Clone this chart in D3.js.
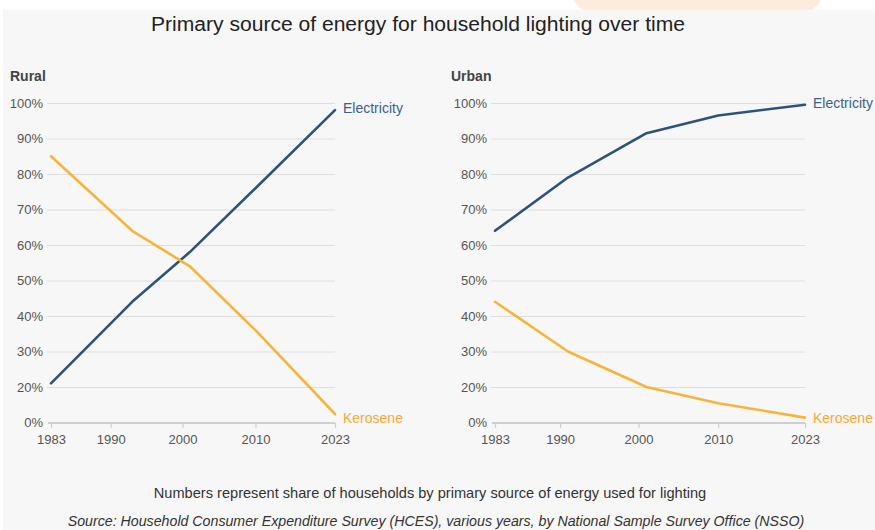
<!DOCTYPE html>
<html>
<head>
<meta charset="utf-8">
<script src="https://cdn.jsdelivr.net/npm/d3@7"></script>
<style>
  body { margin: 0; background: #fff; }
  svg { display: block; font-family: "Liberation Sans", Arial, Helvetica, sans-serif; }
</style>
</head>
<body>
<div id="chart"></div>
<script>
// Data (share of households, %)
const tickYears = [1983, 1990, 2000, 2010, 2023];
const yTicks = [0, 20, 30, 40, 50, 60, 70, 80, 90, 100];

const ruralYears = [1983, 1993, 2001, 2010, 2023];
const ruralElectricity = [21, 44, 58, 76, 98];
const ruralKerosene = [85, 64, 54, 36, 5];

const urbanYears = [1983, 1991, 2001, 2010, 2023];
const urbanElectricity = [64, 79, 91.5, 96.5, 99.5];
const urbanKerosene = [44, 30, 20, 11, 3];

const width = 875;
const height = 530;

const colElec = "#2f5278";
const colKero = "#f8b43a";

const svg = d3.select("#chart")
    .append("svg")
    .attr("width", width)
    .attr("height", height);

// orange badge peeking in at the top
svg.append("rect")
    .attr("x", 572).attr("y", -30)
    .attr("width", 250).attr("height", 42)
    .attr("rx", 20)
    .attr("fill", "#fdebdc");

// chart background
svg.append("rect")
    .attr("x", 3).attr("y", 10)
    .attr("width", width - 3).attr("height", height - 10)
    .attr("fill", "#f7f7f7");

svg.append("text")
    .attr("x", 418).attr("y", 31)
    .attr("text-anchor", "middle")
    .attr("font-size", 20)
    .attr("textLength", 534)
    .attr("lengthAdjust", "spacingAndGlyphs")
    .attr("fill", "#222")
    .text("Primary source of energy for household lighting over time");

// same positional fractions for both panels
const tickFrac = [0, 0.21, 0.463, 0.72, 1];

const panels = [
    { name: "Rural", x0: 51, x1: 335, titleX: 10, years: ruralYears, elec: ruralElectricity, kero: ruralKerosene },
    { name: "Urban", x0: 495, x1: 805, titleX: 451, years: urbanYears, elec: urbanElectricity, kero: urbanKerosene }
];

// y: the source places "0%" one step below 20% (no 10% line)
const y = d3.scaleLinear()
    .domain([0, 20, 100])
    .range([423, 387, 103]);

panels.forEach(p => {
    const x = d3.scaleLinear()
        .domain(tickYears)
        .range(tickFrac.map(f => p.x0 + f * (p.x1 - p.x0)));

    const g = svg.append("g");

    g.append("text")
        .attr("x", p.titleX).attr("y", 81)
        .attr("font-size", 14)
        .attr("font-weight", "bold")
        .attr("fill", "#444")
        .text(p.name);

    // gridlines + y labels
    const yAxis = g.append("g")
        .attr("transform", `translate(${p.x0 - 4},0)`)
        .call(d3.axisLeft(y)
            .tickValues(yTicks.filter(d => d > 0))
            .tickSize(-(p.x1 - p.x0 + 4))
            .tickPadding(4)
            .tickFormat(d => d + "%"));
    yAxis.select(".domain").remove();
    yAxis.selectAll(".tick line").attr("stroke", "#dedede");
    yAxis.selectAll(".tick text")
        .attr("font-size", 13)
        .attr("fill", "#555")
        .attr("font-family", null);

    // baseline with 0% label
    g.append("text")
        .attr("x", p.x0 - 8).attr("y", y(0))
        .attr("dy", "0.32em")
        .attr("text-anchor", "end")
        .attr("font-size", 13)
        .attr("fill", "#555")
        .text("0%");

    const xAxis = g.append("g")
        .attr("transform", `translate(0,${y(0)})`)
        .call(d3.axisBottom(x)
            .tickValues(tickYears)
            .tickSize(5)
            .tickPadding(7)
            .tickFormat(d3.format("d")));
    xAxis.select(".domain")
        .attr("d", `M${p.x0 - 3},0H${p.x1}`)
        .attr("stroke", "#cfcfcf")
        .attr("stroke-width", 2);
    xAxis.selectAll(".tick line").attr("stroke", "#cfcfcf").attr("stroke-width", 1.2);
    xAxis.selectAll(".tick text")
        .attr("font-size", 13)
        .attr("fill", "#555")
        .attr("font-family", null);

    const line = d3.line()
        .x(d => x(d[0]))
        .y(d => y(d[1]));

    const series = [
        { name: "Electricity", values: p.elec, color: colElec, text: "#3d5f88", dy: -2 },
        { name: "Kerosene", values: p.kero, color: colKero, text: "#f5a936", dy: 5 }
    ];

    series.forEach(s => {
        const pts = p.years.map((yr, i) => [yr, s.values[i]]);
        g.append("path")
            .datum(pts)
            .attr("fill", "none")
            .attr("stroke", s.color)
            .attr("stroke-width", 2.6)
            .attr("stroke-linejoin", "round")
            .attr("stroke-linecap", "round")
            .attr("d", line);
        const last = pts[pts.length - 1];
        g.append("text")
            .attr("x", x(last[0]) + 8)
            .attr("y", Math.min(y(last[1]) + s.dy, y(0) - 5))
            .attr("dy", "0.35em")
            .attr("font-size", 14)
            .attr("fill", s.text)
            .text(s.name);
    });
});

svg.append("text")
    .attr("x", 430).attr("y", 498)
    .attr("text-anchor", "middle")
    .attr("font-size", 14.6)
    .attr("fill", "#333")
    .text("Numbers represent share of households by primary source of energy used for lighting");

svg.append("text")
    .attr("x", 436).attr("y", 526)
    .attr("text-anchor", "middle")
    .attr("font-size", 14.2)
    .attr("font-style", "italic")
    .attr("fill", "#333")
    .text("Source: Household Consumer Expenditure Survey (HCES), various years, by National Sample Survey Office (NSSO)");
</script>
</body>
</html>
